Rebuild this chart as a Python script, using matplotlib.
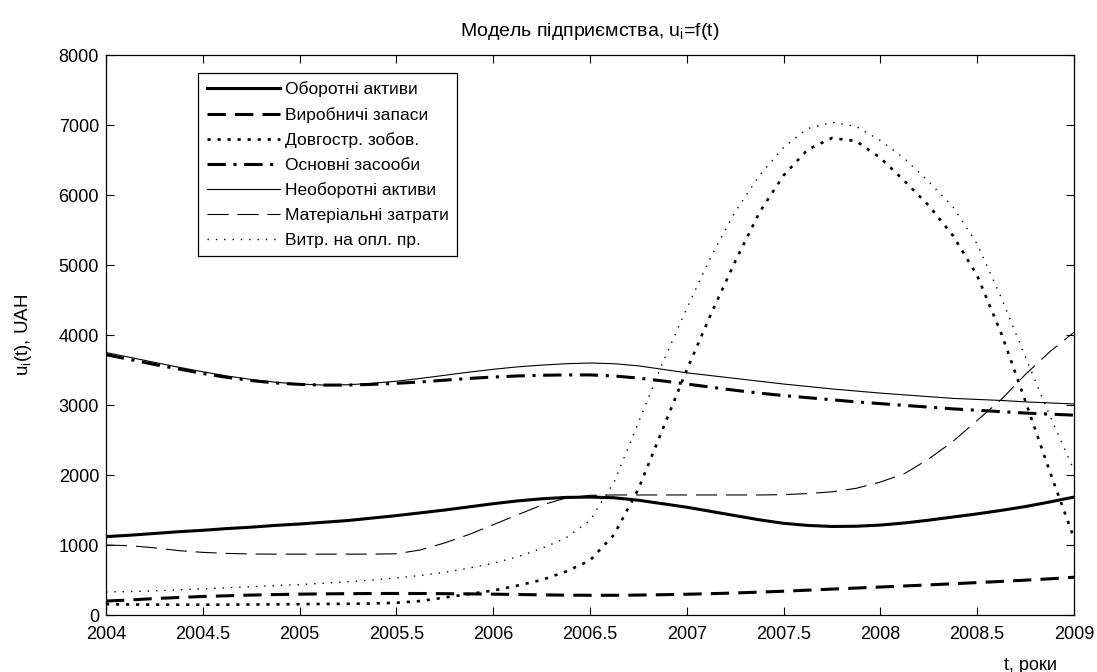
import numpy as np
import matplotlib
matplotlib.use("Agg")
import matplotlib.pyplot as plt

plt.rcParams['font.family'] = ['Liberation Sans', 'DejaVu Sans']

# time grid, years
t = np.arange(2004, 2009.0001, 0.125)

# Оборотні активи
ob_aktyvy = [1120, 1140, 1165, 1190, 1210, 1235, 1255, 1280, 1300, 1325, 1350,
             1385, 1420, 1460, 1500, 1545, 1590, 1630, 1660, 1680, 1685, 1675,
             1640, 1590, 1540, 1480, 1420, 1360, 1310, 1280, 1265, 1268, 1285,
             1315, 1355, 1400, 1445, 1495, 1550, 1615, 1685]
# Виробничі запаси
vyr_zapasy = [200, 215, 235, 250, 265, 275, 285, 292, 298, 302, 305, 307, 308,
              307, 305, 302, 298, 293, 288, 284, 282, 282, 285, 290, 297, 305,
              315, 327, 340, 355, 370, 385, 400, 415, 430, 447, 463, 480, 498,
              517, 540]
# Довгостр. зобов.
dovg_zobov = [155, 150, 148, 147, 147, 148, 150, 152, 155, 158, 160, 165, 175,
              200, 250, 300, 350, 420, 500, 620, 780, 1150, 1800, 2650, 3500,
              4300, 5050, 5750, 6280, 6650, 6815, 6770, 6530, 6200, 5850, 5420,
              4850, 4020, 3050, 2050, 1100]
# Основні засооби
osn_zasoby = [3720, 3650, 3580, 3515, 3450, 3395, 3350, 3315, 3295, 3285, 3285,
              3295, 3310, 3330, 3355, 3380, 3400, 3415, 3425, 3430, 3430, 3415,
              3385, 3345, 3300, 3255, 3210, 3170, 3135, 3105, 3075, 3045, 3020,
              2995, 2970, 2945, 2925, 2905, 2885, 2870, 2855]
# Необоротні активи
neob_aktyvy = [3750, 3680, 3610, 3540, 3475, 3415, 3365, 3325, 3300, 3285, 3290,
               3310, 3340, 3380, 3425, 3470, 3510, 3545, 3570, 3590, 3600, 3590,
               3560, 3510, 3460, 3420, 3380, 3340, 3300, 3265, 3230, 3200, 3170,
               3145, 3120, 3095, 3080, 3065, 3045, 3030, 3015]
# Матеріальні затрати
mat_zatraty = [1000, 990, 960, 920, 895, 880, 872, 870, 870, 870, 870, 870, 875,
               930, 1030, 1150, 1290, 1430, 1570, 1670, 1710, 1715, 1715, 1715,
               1715, 1715, 1715, 1715, 1720, 1735, 1760, 1810, 1900, 2020, 2230,
               2480, 2780, 3080, 3440, 3760, 4040]
# Витр. на опл. пр.
vytr_opl = [330, 335, 345, 360, 375, 390, 405, 420, 435, 455, 475, 500, 530, 565,
            610, 670, 740, 830, 950, 1100, 1350, 1900, 2750, 3600, 4380, 5120,
            5760, 6280, 6680, 6950, 7040, 6980, 6780, 6520, 6190, 5830, 5300,
            4530, 3680, 2850, 2070]

labels = ['Оборотні активи', 'Виробничі запаси', 'Довгостр. зобов.',
          'Основні засооби', 'Необоротні активи', 'Матеріальні затрати',
          'Витр. на опл. пр.']

fig = plt.figure(figsize=(10.97, 6.72), dpi=100)
ax = fig.add_axes([0.0966, 0.0848, 0.8824, 0.8333])

ax.plot(t, ob_aktyvy, 'k-', lw=2.2, label=labels[0])
ax.plot(t, vyr_zapasy, 'k--', lw=2.2, dashes=(6, 3), label=labels[1])
ax.plot(t, dovg_zobov, 'k:', lw=1.9, dashes=(1.2, 2.6), label=labels[2])
ax.plot(t, osn_zasoby, 'k-.', lw=2.2, dashes=(6, 2.5, 1, 2.5), label=labels[3])
ax.plot(t, neob_aktyvy, 'k-', lw=0.8, label=labels[4])
ax.plot(t, mat_zatraty, 'k--', lw=0.8, dashes=(19, 8), label=labels[5])
ax.plot(t, vytr_opl, 'k:', lw=1.0, dashes=(1, 5), label=labels[6])

ax.set_xlim(2004, 2009)
ax.set_ylim(0, 8000)
ax.set_xticks(np.arange(2004, 2009.01, 0.5))
ax.set_xticklabels(['2004', '2004.5', '2005', '2005.5', '2006', '2006.5',
                    '2007', '2007.5', '2008', '2008.5', '2009'])
ax.set_yticks(np.arange(0, 8001, 1000))
ax.tick_params(direction='in', length=6, width=0.8, top=True, right=True,
               labelsize=13, pad=5)
ax.tick_params(axis='x', pad=8)
for s in ax.spines.values():
    s.set_linewidth(0.9)

ax.set_title('Модель підприємства, u$_\\mathregular{i}$=f(t)', fontsize=14, pad=14)
ax.set_ylabel('u$_\\mathregular{i}$(t), UAH', fontsize=13.5, labelpad=18)
ax.set_xlabel('t, роки', fontsize=13)
ax.xaxis.set_label_coords(0.955, -0.075)

leg = ax.legend(loc='upper left', bbox_to_anchor=(0.095, 0.968), borderaxespad=0,
                fontsize=12.5, fancybox=False, framealpha=1, edgecolor='k',
                handlelength=4.2, handletextpad=0.3, labelspacing=0.55,
                borderpad=0.5)
leg.get_frame().set_linewidth(0.9)

fig.savefig('out.png', dpi=100)
